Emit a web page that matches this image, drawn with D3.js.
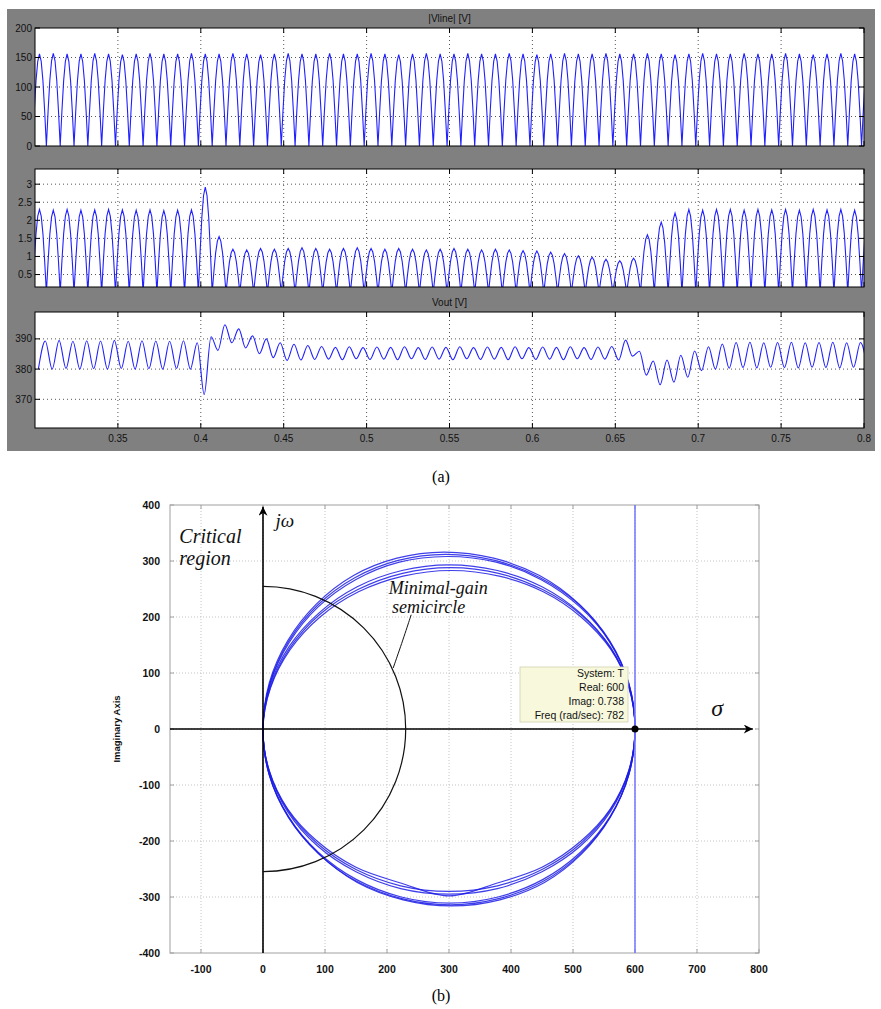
<!DOCTYPE html>
<html lang="en">
<head>
<meta charset="utf-8">
<title>PFC waveforms and Nyquist plot</title>
<script src="https://d3js.org/d3.v7.min.js"></script>
<style>
  body { margin: 0; background: #fff; }
  svg text { font-family: "Liberation Sans", Arial, sans-serif; }
  .serif { font-family: "Liberation Serif", "Times New Roman", serif; font-style: italic; }
</style>
</head>
<body>
<script>
// ---------------- data ----------------
// (a) time axis and waveform timing
var timeDomain = [0.30, 0.80];
var timeTicks = [0.35, 0.4, 0.45, 0.5, 0.55, 0.6, 0.65, 0.7, 0.75, 0.8];
var firstPeak = 0.3027;          // first rectified peak of |Vline| and current [s]
var halfPeriod = 1 / 120;        // 60 Hz line, rectified -> 120 Hz
var halfWaveShape = [0, 0.38, 0.71, 0.92, 1, 0.92, 0.71, 0.38, 0];

// |Vline| peak of every half cycle [V]
var vlinePeaks = [156, 157, 156, 156, 157, 156, 155, 156, 157, 156, 156, 157,
  156, 156, 157, 156, 155, 156, 157, 156, 156, 157, 156, 156, 157, 156, 155,
  156, 157, 156, 156, 157, 156, 156, 157, 156, 155, 156, 157, 156, 156, 157,
  156, 156, 157, 156, 155, 156, 157, 156, 156, 157, 156, 156, 157, 156, 155,
  156, 157, 156, 156];

// input current peak of every half cycle
var iinPeaks = [2.3, 2.28, 2.3, 2.28, 2.29, 2.3, 2.29, 2.28, 2.29, 2.27, 2.28, 2.29,
  2.92, 1.55,
  1.2, 1.18, 1.22, 1.2, 1.22, 1.24, 1.22, 1.2, 1.22, 1.24, 1.22, 1.2, 1.22, 1.2,
  1.18, 1.2, 1.22, 1.2, 1.18, 1.2, 1.18, 1.16, 1.15,
  1.12, 1.08, 1.02, 0.98, 0.92, 0.88, 0.95,
  1.6, 1.95, 2.2,
  2.3, 2.28, 2.3, 2.3, 2.28, 2.3, 2.29, 2.3, 2.28, 2.3, 2.29, 2.3, 2.28, 2.3];

// Vout ripple: peaks and the valleys in between [V]
var voutFirstPeak = 0.3062;
var voutPeaks = [389.3, 389.5, 389.2, 389.4, 389.3, 389.5, 389.2, 389.4, 389.3, 389.2, 389.4,
  388.7, 390.7, 394.7, 393.3, 391.0, 390.0, 388.7, 388.2, 387.8, 387.5,
  387.2, 387.4, 387.1, 387.3, 387.2, 387.4, 387.1, 387.3, 387.2, 387.4,
  387.1, 387.3, 387.2, 387.4, 387.1, 387.3, 387.2, 387.4, 387.1, 387.3,
  387.5, 389.6, 385.9, 382.7, 383.0, 384.6, 386.0, 387.4, 388.3,
  388.8, 388.9, 388.7, 388.8, 388.9, 388.7, 388.8, 388.9, 388.7, 388.8];
var voutValleys = [380, 380, 380.2, 380, 380.1, 380, 380.2, 380, 380.1, 380, 380.2, 380,
  371.6, 386.2, 388.7, 387.0, 385.1, 383.8, 382.9, 383.0, 383.2,
  383.3, 383.1, 383.4, 383.2, 383.3, 383.1, 383.4, 383.2, 383.3, 383.1, 383.4,
  383.2, 383.3, 383.1, 383.4, 383.2, 383.3, 383.1, 383.4, 383.2, 383.3,
  383.0, 384.3, 378.0, 374.8, 375.7, 377.3, 379.5, 380.0, 380.3,
  380.5, 380.4, 380.6, 380.5, 380.4, 380.6, 380.5, 380.4, 380.6, 380.5];

// (b) Nyquist loops, [real, imag] points around each loop
var nyquistLoops = [
  [[0,0],[10,82],[40,158],[86,223],[146,274],[216,305],[292,316],[372,305],[446,274],[510,223],[559,158],[590,82],[600,0],
   [590,-82],[560,-158],[514,-223],[454,-274],[382,-305],[304,-316],[226,-305],[152,-274],[90,-223],[41,-158],[10,-82]],
  [[0,0],[11,81],[41,156],[88,221],[148,270],[218,301],[294,312],[374,301],[447,270],[511,221],[559,156],[590,81],[600,0],
   [590,-81],[560,-157],[513,-222],[452,-272],[380,-303],[302,-314],[224,-303],[151,-272],[89,-222],[41,-157],[10,-81]],
  [[0,0],[11,80],[42,154],[89,218],[150,267],[220,298],[296,308],[376,298],[448,267],[511,218],[560,154],[590,80],[600,0],
   [590,-81],[560,-156],[512,-220],[451,-269],[379,-300],[301,-311],[223,-300],[151,-269],[89,-220],[41,-156],[10,-81]],
  [[0,0],[11,76],[42,147],[90,207],[152,254],[224,283],[300,293],[378,283],[450,254],[512,207],[560,147],[590,76],[600,0],
   [590,-76],[560,-148],[512,-209],[450,-255],[378,-285],[300,-295],[222,-285],[150,-255],[88,-209],[40,-148],[10,-76]],
  [[0,0],[12,75],[43,144],[91,204],[153,249],[225,278],[302,288],[380,278],[451,249],[513,204],[561,144],[590,75],[600,0],
   [590,-75],[560,-145],[512,-205],[450,-251],[378,-280],[300,-290],[222,-280],[150,-251],[88,-205],[40,-145],[10,-75]],
  [[0,0],[12,73],[44,142],[92,200],[154,245],[226,273],[303,283],[381,273],[452,245],[513,200],[561,142],[591,73],[600,0],
   [590,-74],[560,-143],[512,-201],[450,-247],[378,-275],[300,-298],[222,-275],[150,-247],[88,-201],[40,-143],[10,-74]]
];
var realTicks = [-100, 0, 100, 200, 300, 400, 500, 600, 700, 800];
var imagTicks = [-400, -300, -200, -100, 0, 100, 200, 300, 400];
var markerReal = 600, markerImag = 0;
var semicircleRadius = 230;
var tipLines = ["System: T", "Real: 600", "Imag: 0.738", "Freq (rad/sec): 782"];

// ---------------- drawing ----------------
var w = 881, h = 1009;
var svg = d3.select("body").append("svg").attr("width", w).attr("height", h);

// ===== (a) =====
svg.append("rect").attr("x", 7).attr("y", 9).attr("width", 868).attr("height", 442).attr("fill", "#808080");

var xA = d3.scaleLinear().domain(timeDomain).range([35, 864]);

function rectified(peaks) {
  var pts = [];
  var n = halfWaveShape.length - 1;
  peaks.forEach(function(a, k) {
    var z0 = firstPeak + (k - 0.5) * halfPeriod;
    halfWaveShape.forEach(function(s, i) {
      if (i === 0 && k > 0) return;
      pts.push([z0 + i / n * halfPeriod, a * s]);
    });
  });
  return pts;
}

function ripple() {
  var pts = [];
  voutValleys.forEach(function(v, j) {
    pts.push([voutFirstPeak + (j - 0.5) * halfPeriod, v]);
    if (j < voutPeaks.length) pts.push([voutFirstPeak + j * halfPeriod, voutPeaks[j]]);
  });
  return pts;
}

var panels = [
  { top: 28, bottom: 146, domain: [0, 200], ticks: [0, 50, 100, 150, 200], title: "|Vline| [V]",
    points: rectified(vlinePeaks), curve: d3.curveLinear },
  { top: 169, bottom: 287, domain: [0.155, 3.42], ticks: [0.5, 1, 1.5, 2, 2.5, 3], title: null,
    points: rectified(iinPeaks), curve: d3.curveLinear },
  { top: 312, bottom: 428, domain: [360.5, 398.9], ticks: [370, 380, 390], title: "Vout [V]",
    points: ripple(), curve: d3.curveMonotoneX }
];

panels.forEach(function(p, i) {
  var y = d3.scaleLinear().domain(p.domain).range([p.bottom, p.top]);
  var g = svg.append("g");
  var x0 = xA.range()[0], x1 = xA.range()[1];

  g.append("rect").attr("x", x0).attr("y", p.top).attr("width", x1 - x0).attr("height", p.bottom - p.top).attr("fill", "#fff");

  g.append("clipPath").attr("id", "clipA" + i)
    .append("rect").attr("x", x0).attr("y", p.top).attr("width", x1 - x0).attr("height", p.bottom - p.top);

  // grid
  g.selectAll(".vg").data(timeTicks.slice(0, -1)).enter().append("line")
    .attr("x1", function(d) { return xA(d); }).attr("x2", function(d) { return xA(d); })
    .attr("y1", p.top).attr("y2", p.bottom)
    .attr("stroke", "#555").attr("stroke-dasharray", "1,3");
  g.selectAll(".hg").data(p.ticks.filter(function(d) { return y(d) > p.top + 1 && y(d) < p.bottom - 1; })).enter().append("line")
    .attr("x1", x0).attr("x2", x1)
    .attr("y1", function(d) { return y(d); }).attr("y2", function(d) { return y(d); })
    .attr("stroke", "#555").attr("stroke-dasharray", "1,3");

  // signal
  g.append("path").datum(p.points)
    .attr("clip-path", "url(#clipA" + i + ")")
    .attr("fill", "none").attr("stroke", "#2020ff").attr("stroke-width", 1.1)
    .attr("d", d3.line().x(function(d) { return xA(d[0]); }).y(function(d) { return y(d[1]); }).curve(p.curve));

  // box and inner ticks
  g.append("rect").attr("x", x0).attr("y", p.top).attr("width", x1 - x0).attr("height", p.bottom - p.top)
    .attr("fill", "none").attr("stroke", "#000");
  timeTicks.forEach(function(t) {
    g.append("line").attr("x1", xA(t)).attr("x2", xA(t)).attr("y1", p.top).attr("y2", p.top + 5).attr("stroke", "#000");
    g.append("line").attr("x1", xA(t)).attr("x2", xA(t)).attr("y1", p.bottom).attr("y2", p.bottom - 5).attr("stroke", "#000");
  });
  p.ticks.forEach(function(v) {
    g.append("line").attr("x1", x0).attr("x2", x0 + 5).attr("y1", y(v)).attr("y2", y(v)).attr("stroke", "#000");
    g.append("line").attr("x1", x1).attr("x2", x1 - 5).attr("y1", y(v)).attr("y2", y(v)).attr("stroke", "#000");
  });

  // y labels
  g.selectAll(".yl").data(p.ticks).enter().append("text")
    .attr("x", x0 - 3).attr("y", function(d) { return y(d) + 3.5; })
    .attr("text-anchor", "end").attr("font-size", 10).attr("fill", "#111")
    .text(function(d) { return d; });

  if (p.title) {
    g.append("text").attr("x", (x0 + x1) / 2).attr("y", p.top - 6)
      .attr("text-anchor", "middle").attr("font-size", 10).attr("fill", "#111").text(p.title);
  }

  if (i === panels.length - 1) {
    g.selectAll(".xl").data(timeTicks).enter().append("text")
      .attr("x", function(d) { return xA(d); }).attr("y", p.bottom + 14)
      .attr("text-anchor", "middle").attr("font-size", 10).attr("fill", "#111")
      .text(function(d) { return d; });
  }
});

svg.append("text").attr("class", "serif").style("font-style", "normal")
  .attr("x", 441).attr("y", 482).attr("text-anchor", "middle").attr("font-size", 16).text("(a)");

// ===== (b) =====
var xB = d3.scaleLinear().domain([-150, 800]).range([170, 759]);
var yB = d3.scaleLinear().domain([-400, 400]).range([953, 505]);
var gb = svg.append("g");
var bx0 = xB.range()[0], bx1 = xB.range()[1], by0 = yB.range()[1], by1 = yB.range()[0];

gb.append("clipPath").attr("id", "clipB")
  .append("rect").attr("x", bx0).attr("y", by0).attr("width", bx1 - bx0).attr("height", by1 - by0);

// grid
gb.selectAll(".gx").data(realTicks.filter(function(d) { return d < 800; })).enter().append("line")
  .attr("x1", function(d) { return xB(d); }).attr("x2", function(d) { return xB(d); })
  .attr("y1", by0).attr("y2", by1).attr("stroke", "#c4c4c4").attr("stroke-dasharray", "1,2");
gb.selectAll(".gy").data(imagTicks.filter(function(d) { return d > -400 && d < 400; })).enter().append("line")
  .attr("x1", bx0).attr("x2", bx1)
  .attr("y1", function(d) { return yB(d); }).attr("y2", function(d) { return yB(d); })
  .attr("stroke", "#c4c4c4").attr("stroke-dasharray", "1,2");

// box + small ticks
gb.append("rect").attr("x", bx0).attr("y", by0).attr("width", bx1 - bx0).attr("height", by1 - by0)
  .attr("fill", "none").attr("stroke", "#a0a0a0");
realTicks.forEach(function(t) {
  gb.append("line").attr("x1", xB(t)).attr("x2", xB(t)).attr("y1", by1).attr("y2", by1 - 4).attr("stroke", "#a0a0a0");
  gb.append("line").attr("x1", xB(t)).attr("x2", xB(t)).attr("y1", by0).attr("y2", by0 + 4).attr("stroke", "#a0a0a0");
});
imagTicks.forEach(function(v) {
  gb.append("line").attr("x1", bx0).attr("x2", bx0 + 4).attr("y1", yB(v)).attr("y2", yB(v)).attr("stroke", "#a0a0a0");
  gb.append("line").attr("x1", bx1).attr("x2", bx1 - 4).attr("y1", yB(v)).attr("y2", yB(v)).attr("stroke", "#a0a0a0");
});

// tick labels
gb.selectAll(".xt").data(realTicks).enter().append("text")
  .attr("x", function(d) { return xB(d); }).attr("y", by1 + 20)
  .attr("text-anchor", "middle").attr("font-size", 10.5).attr("font-weight", "bold").attr("fill", "#111")
  .text(function(d) { return d; });
gb.selectAll(".yt").data(imagTicks).enter().append("text")
  .attr("x", bx0 - 10).attr("y", function(d) { return yB(d) + 4; })
  .attr("text-anchor", "end").attr("font-size", 10.5).attr("font-weight", "bold").attr("fill", "#111")
  .text(function(d) { return d; });
gb.append("text").attr("transform", "translate(" + 120 + "," + yB(0) + ") rotate(-90)")
  .attr("text-anchor", "middle").attr("font-size", 9.5).attr("font-weight", "bold").attr("fill", "#111")
  .text("Imaginary Axis");

// Nyquist loops
gb.selectAll(".loop").data(nyquistLoops).enter().append("path")
  .attr("clip-path", "url(#clipB)")
  .attr("fill", "none").attr("stroke", "#1c1ce6").attr("stroke-width", 1.2).attr("stroke-opacity", 0.85)
  .attr("d", d3.line().x(function(d) { return xB(d[0]); }).y(function(d) { return yB(d[1]); })
    .curve(d3.curveCatmullRomClosed.alpha(0.5)));

// marker line at Real = 600
gb.append("line").attr("x1", xB(markerReal)).attr("x2", xB(markerReal))
  .attr("y1", by0).attr("y2", by1).attr("stroke", "#7b7bff").attr("stroke-width", 1.6);

// arrowhead marker
var defs = svg.append("defs");
defs.append("marker").attr("id", "arrow").attr("viewBox", "0 0 10 10")
  .attr("refX", 10).attr("refY", 5).attr("markerWidth", 12).attr("markerHeight", 9)
  .attr("markerUnits", "userSpaceOnUse").attr("orient", "auto")
  .append("path").attr("d", "M0,0 L10,5 L0,10 L3,5 Z").attr("fill", "#000");

// j-omega and sigma axes
gb.append("line").attr("x1", xB(0)).attr("x2", xB(0)).attr("y1", yB(-400)).attr("y2", yB(397))
  .attr("stroke", "#000").attr("stroke-width", 1.6).attr("marker-end", "url(#arrow)");
gb.append("line").attr("x1", xB(-150)).attr("x2", xB(790)).attr("y1", yB(0)).attr("y2", yB(0))
  .attr("stroke", "#000").attr("stroke-width", 1.3).attr("marker-end", "url(#arrow)");

// minimal-gain semicircle (circle in screen space)
var rPx = xB(semicircleRadius) - xB(0);
var semi = d3.path();
semi.arc(xB(0), yB(0), rPx, -Math.PI / 2, Math.PI / 2);
gb.append("path").attr("d", semi.toString()).attr("fill", "none").attr("stroke", "#111").attr("stroke-width", 1.2);

// leader line from label to semicircle
gb.append("path").datum([[239, 204], [226, 160], [210, 109]])
  .attr("fill", "none").attr("stroke", "#111").attr("stroke-width", 1)
  .attr("d", d3.line().x(function(d) { return xB(d[0]); }).y(function(d) { return yB(d[1]); }).curve(d3.curveBasis));

// annotations
function note(txt, re, im, size) {
  gb.append("text").attr("class", "serif").attr("x", xB(re)).attr("y", yB(im))
    .attr("font-size", size).attr("fill", "#111").text(txt);
}
note("Critical", -135, 332, 20);
note("region", -135, 293, 20);
note("j\u03C9", 20, 361, 19);
note("Minimal-gain", 203, 241, 18);
note("semicircle", 208, 207, 18);
note("\u03C3", 723, 23, 24);

// data tip
var tipX = xB(markerReal), tipY = yB(markerImag);
gb.append("rect").attr("x", tipX - 115).attr("y", tipY - 62).attr("width", 108).attr("height", 55)
  .attr("fill", "#f8f8dc").attr("stroke", "#cfcfb0").attr("stroke-width", 0.8);
gb.selectAll(".tip").data(tipLines).enter().append("text")
  .attr("x", tipX - 11).attr("y", function(d, i) { return tipY - 52 + i * 14; })
  .attr("text-anchor", "end").attr("font-size", 10.5).attr("fill", "#111")
  .text(function(d) { return d; });
gb.append("circle").attr("cx", tipX).attr("cy", tipY).attr("r", 3.5).attr("fill", "#000");

svg.append("text").attr("class", "serif").style("font-style", "normal")
  .attr("x", 441).attr("y", 1001).attr("text-anchor", "middle").attr("font-size", 16).text("(b)");
</script>
</body>
</html>
